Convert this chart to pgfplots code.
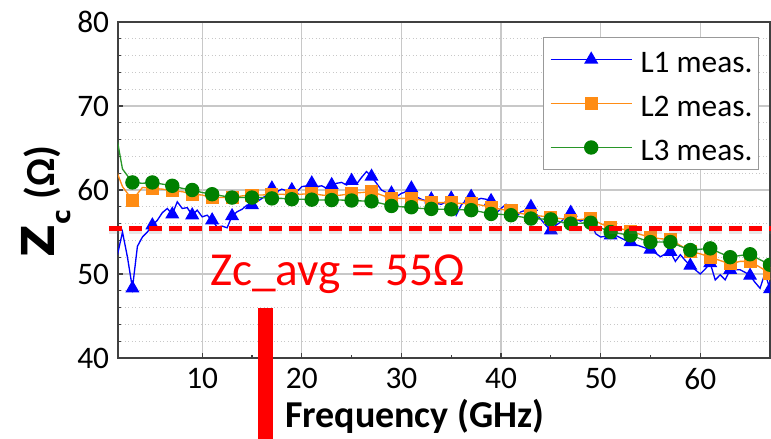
\documentclass[border=0pt]{standalone}
\usepackage{pgfplots}
\pgfplotsset{compat=1.18}
\usepackage{fontspec}
\setmainfont{Carlito}
\newfontfamily\dejavu{DejaVu Sans}
\definecolor{cblue}{RGB}{0,0,255}
\definecolor{corange}{RGB}{255,140,20}
\definecolor{cgreen}{RGB}{0,128,0}
\definecolor{cgreenline}{RGB}{40,150,40}
\definecolor{cred}{RGB}{255,0,0}
\definecolor{gridc}{RGB}{200,200,200}
\begin{document}
\begin{tikzpicture}
\begin{axis}[
  at={(0pt,0pt)}, anchor=south west,
  scale only axis, width=489pt, height=252pt,
  xmin=1.55, xmax=67, ymin=40, ymax=80,
  xtick={10,20,30,40,50,60}, ytick={40,50,60,70,80},
  minor x tick num=1, minor y tick num=4,
  tick pos=left, tick align=inside,
  major tick length=4pt, minor tick length=2.5pt,
  xmajorgrids, ymajorgrids, yminorgrids,
  major grid style={gridc, line width=0.9pt},
  minor grid style={gridc, line width=0.6pt, dotted},
  axis line style={black!75, line width=1.2pt},
  every tick/.style={black!75, line width=0.9pt},
  tick label style={font=\fontsize{23.5}{24}\selectfont, inner sep=0pt},
  /pgf/number format/assume math mode=true,
  xticklabel shift=7.5pt, yticklabel shift=6.5pt,
  clip marker paths=true,
  legend style={at={(0.9831,0.9554)}, anchor=north east, draw=gray!80, line width=0.75pt,
    inner xsep=4.5pt, inner ysep=0pt, font=\fontsize{23.5}{24}\selectfont,
    nodes={inner sep=0pt, text height=26pt, text depth=7pt}, row sep=0pt,
    /tikz/every odd column/.append style={column sep=6pt}},
  legend cell align=left,
  legend image code/.code={\draw[#1, mark repeat=2, mark phase=2] plot coordinates {(0pt,0pt) (30.5pt,0pt) (61pt,0pt)};},
]
\addplot[cblue, line width=1pt, mark=triangle*, mark size=5.1pt, mark options={solid, fill=cblue, draw=cblue}, mark repeat=4, mark phase=3] coordinates {
(1,51.5) (1.5,52.3) (2,55.0) (2.5,52.0) (3,48.3) (3.5,53.3) (4,54.4) (4.5,55.0)
(5,55.8) (5.5,56.4) (6,57.3) (6.5,57.8) (7,57.1) (7.5,58.6) (8,57.8) (8.5,57.9)
(9,57.0) (9.5,57.6) (10,56.8) (10.5,57.0) (11,56.4) (11.5,55.6) (12,55.7) (12.5,55.5)
(13,56.9) (13.5,57.4) (14,57.7) (14.5,58.2) (15,58.2) (15.5,58.6) (16,59.0) (16.5,59.4)
(17,60.2) (17.5,59.8) (18,60.1) (18.5,59.9) (19,60.0) (19.5,59.8) (20,60.4) (20.5,60.5)
(21,60.8) (21.5,60.4) (22,60.5) (22.5,60.2) (23,60.6) (23.5,60.8) (24,60.9) (24.5,60.6)
(25,61.1) (25.5,60.7) (26,61.5) (26.5,62.2) (27,61.6) (27.5,60.8) (28,60.0) (28.5,59.7)
(29,59.6) (29.5,59.2) (30,59.6) (30.5,59.8) (31,60.2) (31.5,59.2) (32,58.9) (32.5,58.7)
(33,58.9) (33.5,58.4) (34,58.3) (34.5,58.6) (35,59.0) (35.5,57.0) (36,58.2) (36.5,58.8)
(37,59.2) (37.5,58.8) (38,59.0) (38.5,58.9) (39,58.7) (39.5,57.2) (40,57.8) (40.5,58.3)
(41,57.3) (41.5,56.8) (42,57.4) (42.5,57.6) (43,58.0) (43.5,57.2) (44,56.5) (44.5,55.8)
(45,55.2) (45.5,55.8) (46,56.2) (46.5,56.8) (47,57.3) (47.5,56.5) (48,56.3) (48.5,56.6)
(49,56.3) (49.5,54.8) (50,54.4) (50.5,54.5) (51,54.6) (51.5,54.6) (52,54.3) (52.5,54.0)
(53,53.8) (53.5,53.5) (54,53.3) (54.5,53.1) (55,52.9) (55.5,52.5) (56,52.05) (56.5,52.4)
(57,52.65) (57.5,51.5) (58,52.3) (58.5,51.6) (59,51.0) (59.5,50.5) (60,50.0) (60.5,50.6)
(61,51.3) (61.5,49.3) (62,49.9) (62.5,49.3) (63,50.5) (63.5,50.5) (64,50.5) (64.5,50.2)
(65,49.8) (65.5,49.0) (66,48.3) (66.5,50.1) (67,48.2)
};
\addlegendentry{L1 meas.}
\addplot[corange, line width=1pt, mark=square*, mark size=4.4pt, mark options={solid, fill=corange, draw=corange}, mark repeat=2, mark phase=2] coordinates {
(1,63.5) (2,60.4) (3,58.8) (4,60.3) (5,60.2) (6,60.1) (7,59.9) (8,59.8) (9,59.5) (10,59.4)
(11,59.1) (12,59.1) (13,59.1) (14,59.3) (15,59.4) (16,59.4) (17,59.5) (18,59.5) (19,59.4) (20,59.5)
(21,59.6) (22,59.4) (23,59.3) (24,59.4) (25,59.6) (26,59.7) (27,59.8) (28,59.4) (29,59.0) (30,59.0)
(31,59.0) (32,58.8) (33,58.5) (34,58.5) (35,58.5) (36,58.4) (37,58.4) (38,58.2) (39,57.95) (40,57.7)
(41,57.5) (42,57.2) (43,57.0) (44,56.9) (45,56.75) (46,56.6) (47,56.4) (48,56.5) (49,56.6) (50,56.0)
(51,55.5) (52,55.4) (53,55.1) (54,54.7) (55,54.4) (56,54.2) (57,54.1) (58,53.4) (59,52.7) (60,52.4)
(61,52.0) (62,51.6) (63,51.2) (64,51.5) (65,51.5) (66,50.8) (67,50.1)
};
\addlegendentry{L2 meas.}
\addplot[cgreenline, line width=1pt, mark=*, mark size=4.9pt, mark options={solid, fill=cgreen, draw=cgreen}, mark repeat=2, mark phase=2] coordinates {
(1,69.0) (2,62.5) (3,60.9) (4,60.8) (5,60.9) (6,60.7) (7,60.5) (8,60.2) (9,60.0) (10,59.7)
(11,59.5) (12,59.3) (13,59.1) (14,59.1) (15,59.1) (16,59.1) (17,59.0) (18,59.0) (19,58.9) (20,58.9)
(21,58.85) (22,58.8) (23,58.8) (24,58.8) (25,58.75) (26,58.7) (27,58.65) (28,58.4) (29,58.1) (30,58.0)
(31,57.95) (32,57.8) (33,57.75) (34,57.7) (35,57.7) (36,57.65) (37,57.6) (38,57.4) (39,57.15) (40,57.1)
(41,57.0) (42,56.8) (43,56.6) (44,56.55) (45,56.5) (46,56.2) (47,56.0) (48,56.05) (49,56.1) (50,55.5)
(51,55.0) (52,54.8) (53,54.6) (54,54.2) (55,53.8) (56,53.8) (57,53.8) (58,53.3) (59,52.85) (60,52.95)
(61,53.05) (62,52.5) (63,52.0) (64,52.2) (65,52.35) (66,51.7) (67,51.1)
};
\addlegendentry{L3 meas.}
\end{axis}
\begin{axis}[
  at={(0pt,0pt)}, anchor=south west,
  scale only axis, width=489pt, height=252pt,
  xmin=1.55, xmax=67, ymin=40, ymax=80,
  hide axis, clip=false,
]
\addplot[gray, opacity=0.18, line width=5pt, dash pattern=on 9.75pt off 5.25pt] coordinates {(0.64,55.1) (67.1,55.1)};
\addplot[cred, line width=3.75pt, dash pattern=on 9.75pt off 5.25pt] coordinates {(0.64,55.44) (67.1,55.44)};
\addplot[cred, line width=11.25pt] coordinates {(16.34,45.95) (16.34,30.3)};
\node[anchor=base west, text=cred, font=\fontsize{35.5}{36}\selectfont, inner sep=0pt] at (axis cs:10.77,48.69) {Zc\_avg = 55Ω};
\node[anchor=base west, font=\bfseries\fontsize{28.5}{30}\selectfont, inner sep=0pt] at (axis cs:18.29,31.67) {Frequency (GHz)};
\node[rotate=90, anchor=base west, inner sep=0pt] at (axis cs:-4.87,51.9) {{\dejavu\bfseries\fontsize{34}{36}\selectfont Z}\raisebox{-12pt}{\dejavu\bfseries\fontsize{19}{20}\selectfont c}\hspace{8pt}{\bfseries\fontsize{31}{32}\selectfont (Ω)}};
\end{axis}
\pgfresetboundingbox
\useasboundingbox (-88.5pt,-60.75pt) rectangle (489.75pt,268.5pt);
\end{tikzpicture}
\end{document}
